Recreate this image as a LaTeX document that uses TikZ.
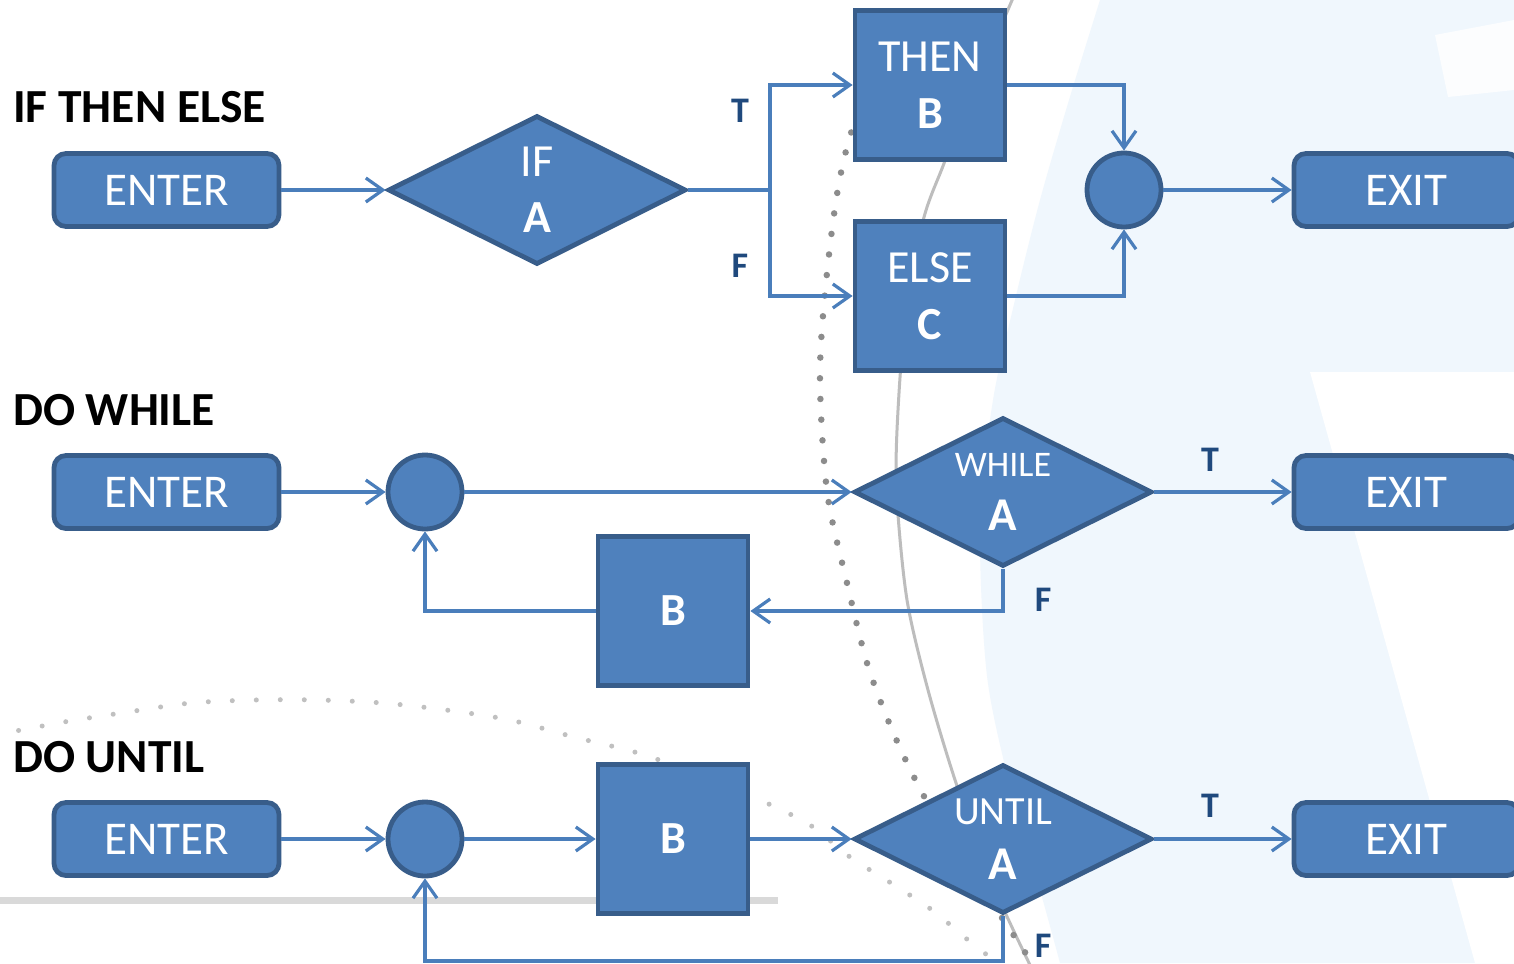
\documentclass[tikz,border=0pt]{standalone}
\usepackage{fontspec}
\setmainfont{Carlito}
\usetikzlibrary{shapes.geometric,arrows.meta}

\definecolor{boxfill}{HTML}{4F81BD}
\definecolor{boxline}{HTML}{385D8A}
\definecolor{wire}{HTML}{4A7EBB}
\definecolor{tflabel}{HTML}{1F497D}
\definecolor{pale}{HTML}{F0F7FD}
\definecolor{arcgray}{HTML}{BDBDBD}
\definecolor{dotgray}{HTML}{8C8C8C}

\begin{document}
\begin{tikzpicture}[x=1pt,y=-1pt,
  shapebase/.style={fill=boxfill,draw=boxline,line width=4.8pt,inner sep=0pt,text=white},
  terminal/.style={shapebase,rectangle,rounded corners=12pt,minimum width=225pt,minimum height=73pt,
                   font=\fontsize{47}{50}\selectfont},
  process/.style={shapebase,rectangle,minimum width=150pt,minimum height=149pt,align=center,
                  font=\fontsize{46}{57}\selectfont},
  decision/.style={shapebase,diamond,minimum width=298pt,minimum height=149pt},
  junction/.style={shapebase,circle,minimum size=74pt},
  dectext/.style={text=white,align=center,inner sep=0pt},
  heading/.style={anchor=base west,inner sep=0pt,font=\fontsize{47.5}{50}\selectfont\bfseries},
  tf/.style={anchor=base,inner sep=0pt,text=tflabel,font=\fontsize{36}{38}\selectfont\bfseries},
  flow/.style={draw=wire,line width=3.2pt,-{Straight Barb[length=17pt,width=24pt]}},
  wirepart/.style={draw=wire,line width=3.2pt}
]
\useasboundingbox (0,0) rectangle (1514,963);
\fill[white] (0,0) rectangle (1514,963);

% slide backdrop: pale blue panel, white glints, arcs and dotted trails
\fill[pale] plot[smooth] coordinates {(1100,0) (1069,100) (1040,200) (1015,300) (993,400)
      (980,520) (987,676) (1013,798) (1040,890) (1060,963)} -- (1514,963) -- (1514,0) -- cycle;
\fill[white] (1310,372) -- (1514,372) -- (1514,963) -- (1475,963) -- cycle;
\fill[white,opacity=0.8] (1435,35) -- (1514,20) -- (1514,90) -- (1448,97) -- cycle;
\draw[arcgray,line width=3pt] plot[smooth] coordinates {(1013,-2) (965,110) (943,166) (923,221)
      (905,320) (897,430) (897,500) (907,600) (928,690) (957,786) (993,885) (1030,965)};
\draw[dotgray,line width=6.5pt,line cap=round,dash pattern=on 0pt off 20.7pt] plot[smooth] coordinates
      {(897,-5) (847,147) (830,246) (820,369) (827,491) (847,583) (867,663) (890,725) (917,783)
       (960,860) (1000,915) (1040,975)};
\draw[dotgray!55,line width=5pt,line cap=round,dash pattern=on 0pt off 24pt] plot[smooth] coordinates
      {(-5,735) (64,722) (128,712) (191,703) (255,700) (319,700) (383,703) (446,710) (510,720)
       (574,737) (638,753) (700,775) (760,800) (810,825) (850,857) (891,883) (932,910) (968,940) (1000,965)};
\draw[gray!30,line width=7pt] (0,900) -- (778,900);

% headings
\node[heading] (h1) at (13,123) {IF THEN ELSE};
\node[heading] (h2) at (13,425) {DO WHILE};
\node[heading] (h3) at (13,772) {DO UNTIL};

% IF THEN ELSE
\node[terminal] (enter1) at (166.5,190) {ENTER};
\node[decision] (ifA) at (537,190) {};
\node[dectext,font=\fontsize{46}{56}\selectfont] (ifA-t) at (ifA.center) {IF\\\textbf{A}};
\node[process] (thenB) at (930,85) {THEN\\\textbf{B}};
\node[process] (elseC) at (930,296) {ELSE\\\textbf{C}};
\node[junction] (join1) at (1124,190) {};
\node[terminal] (exit1) at (1406.5,190) {EXIT};

\coordinate (split1) at (770,190);
\draw[flow] (enter1.east) -- (ifA.west);
\draw[wirepart] (ifA.east) -- (split1);
\draw[flow] (split1) |- (thenB.west);
\draw[flow] (split1) |- (elseC.west);
\draw[flow] (thenB.east) -| (join1.north);
\draw[flow] (elseC.east) -| (join1.south);
\draw[flow] (join1.east) -- (exit1.west);
\node[tf] (t1) at (740,123) {T};
\node[tf] (f1) at (740,277) {F};

% DO WHILE
\node[terminal] (enter2) at (166.5,492) {ENTER};
\node[junction] (loop2) at (425,492) {};
\node[decision] (whileA) at (1003,492) {};
\node[dectext,font=\fontsize{36}{54}\selectfont] (whileA-t) at (whileA.center)
      {WHILE\\{\fontsize{47}{54}\selectfont\bfseries A}};
\node[process] (bodyB2) at (673,611) {\textbf{B}};
\node[terminal] (exit2) at (1406.5,492) {EXIT};

\draw[flow] (enter2.east) -- (loop2.west);
\draw[flow] (loop2.east) -- (whileA.west);
\draw[flow] (whileA.east) -- (exit2.west);
\draw[flow] (whileA.south) |- (bodyB2.east);
\draw[flow] (bodyB2.west) -| (loop2.south);
\node[tf] (t2) at (1210,471) {T};
\node[tf] (f2) at (1043,611) {F};

% DO UNTIL
\node[terminal] (enter3) at (166.5,839) {ENTER};
\node[junction] (loop3) at (425,839) {};
\node[process] (bodyB3) at (673,839) {\textbf{B}};
\node[decision] (untilA) at (1003,839) {};
\node[dectext,font=\fontsize{40}{55}\selectfont] (untilA-t) at (untilA.center)
      {UNTIL\\{\fontsize{47}{55}\selectfont\bfseries A}};
\node[terminal] (exit3) at (1406.5,839) {EXIT};

\coordinate (back3) at (1003,961);
\draw[flow] (enter3.east) -- (loop3.west);
\draw[flow] (loop3.east) -- (bodyB3.west);
\draw[flow] (bodyB3.east) -- (untilA.west);
\draw[flow] (untilA.east) -- (exit3.west);
\draw[flow] (untilA.south) -- (back3) -| (loop3.south);
\node[tf] (t3) at (1210,817) {T};
\node[tf] (f3) at (1043,957) {F};
\end{tikzpicture}
\end{document}
